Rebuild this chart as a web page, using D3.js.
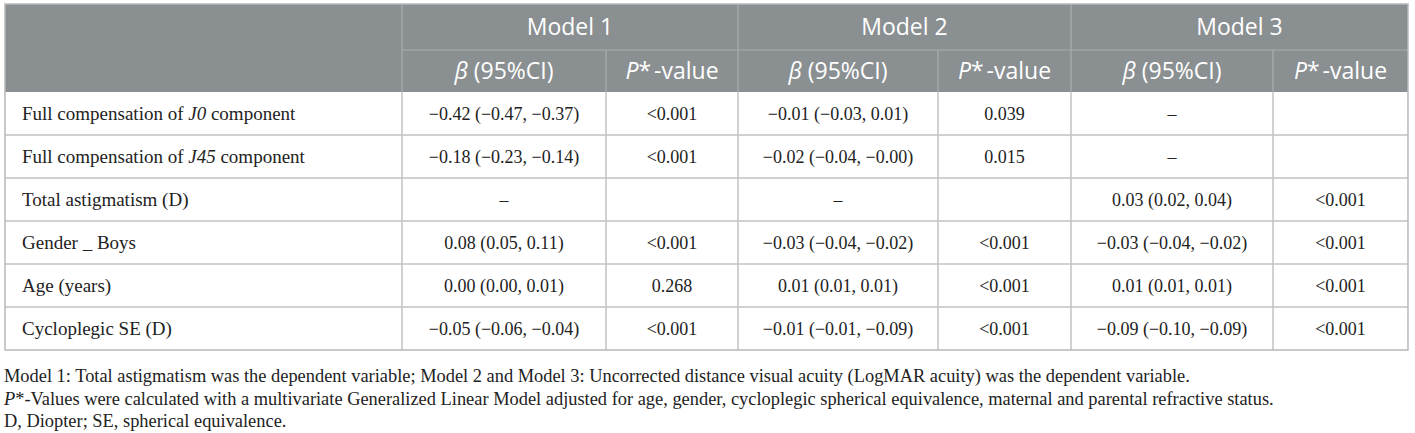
<!DOCTYPE html>
<html>
<head>
<meta charset="utf-8">
<script src="https://cdn.jsdelivr.net/npm/d3@7"></script>
<style>
  body { margin: 0; background: #fff; }
  svg { display: block; }
</style>
</head>
<body>
<div id="chart"></div>
<script>
// table content
const models = ["Model 1", "Model 2", "Model 3"];
const rowLabels = [
  ["Full compensation of ", ["J0", true], " component"],
  ["Full compensation of ", ["J45", true], " component"],
  ["Total astigmatism (D)"],
  ["Gender _ Boys"],
  ["Age (years)"],
  ["Cycloplegic SE (D)"]
];
const model1Beta = ["−0.42 (−0.47, −0.37)", "−0.18 (−0.23, −0.14)", "–", "0.08 (0.05, 0.11)", "0.00 (0.00, 0.01)", "−0.05 (−0.06, −0.04)"];
const model1P = ["<0.001", "<0.001", "", "<0.001", "0.268", "<0.001"];
const model2Beta = ["−0.01 (−0.03, 0.01)", "−0.02 (−0.04, −0.00)", "–", "−0.03 (−0.04, −0.02)", "0.01 (0.01, 0.01)", "−0.01 (−0.01, −0.09)"];
const model2P = ["0.039", "0.015", "", "<0.001", "<0.001", "<0.001"];
const model3Beta = ["–", "–", "0.03 (0.02, 0.04)", "−0.03 (−0.04, −0.02)", "0.01 (0.01, 0.01)", "−0.09 (−0.10, −0.09)"];
const model3P = ["", "", "<0.001", "<0.001", "<0.001", "<0.001"];
const footnotes = [
  [["Model 1: Total astigmatism was the dependent variable; Model 2 and Model 3: Uncorrected distance visual acuity (LogMAR acuity) was the dependent variable.", false]],
  [["P", true], ["*-Values were calculated with a multivariate Generalized Linear Model adjusted for age, gender, cycloplegic spherical equivalence, maternal and parental refractive status.", false]],
  [["D, Diopter; SE, spherical equivalence.", false]]
];

const W = 1415, H = 433;
const tLeft = 5, tRight = 1408, tTop = 4;
const head1 = 50, head2 = 92, rowH = 43;
// column edges: label | b1 p1 | b2 p2 | b3 p3
const colEdges = [tLeft, 402, 606, 738, 938, 1071, 1273, tRight];
const columns = [model1Beta, model1P, model2Beta, model2P, model3Beta, model3P];

const svg = d3.select("#chart").append("svg")
    .attr("width", W)
    .attr("height", H);

const y = d3.scaleBand()
    .domain(d3.range(rowLabels.length))
    .range([head2, head2 + rowH * rowLabels.length]);
const tBottom = y.range()[1];

const colMid = i => (colEdges[i] + colEdges[i + 1]) / 2;

// header background
svg.append("rect")
    .attr("x", tLeft).attr("y", tTop)
    .attr("width", tRight - tLeft).attr("height", head2 - tTop)
    .attr("fill", "#8a8f92");

// header separators
const hLine = "#a9adb0";
svg.append("line")
    .attr("x1", colEdges[1]).attr("x2", tRight)
    .attr("y1", head1).attr("y2", head1)
    .attr("stroke", hLine).attr("stroke-width", 1.2);
[1, 3, 5].forEach(i => {
  svg.append("line")
      .attr("x1", colEdges[i]).attr("x2", colEdges[i])
      .attr("y1", tTop).attr("y2", head2)
      .attr("stroke", hLine).attr("stroke-width", 1.2);
});
[2, 4, 6].forEach(i => {
  svg.append("line")
      .attr("x1", colEdges[i]).attr("x2", colEdges[i])
      .attr("y1", head1).attr("y2", head2)
      .attr("stroke", hLine).attr("stroke-width", 1.2);
});

// header text
const headFont = "'Open Sans', 'Noto Sans', sans-serif";
svg.selectAll(".model")
    .data(models)
    .enter()
    .append("text")
    .attr("class", "model")
    .attr("x", (d, i) => (colEdges[1 + i * 2] + colEdges[3 + i * 2]) / 2)
    .attr("y", 35)
    .attr("text-anchor", "middle")
    .attr("font-family", headFont)
    .attr("font-size", 23)
    .attr("fill", "#fff")
    .text(d => d);

models.forEach((m, i) => {
  const b = svg.append("text")
      .attr("x", colMid(1 + i * 2)).attr("y", 79)
      .attr("text-anchor", "middle")
      .attr("font-family", headFont).attr("font-size", 23)
      .attr("fill", "#fff");
  b.append("tspan").attr("font-style", "italic").text("β");
  b.append("tspan").text(" (95%CI)");
  const p = svg.append("text")
      .attr("x", colMid(2 + i * 2)).attr("y", 79)
      .attr("text-anchor", "middle")
      .attr("font-family", headFont).attr("font-size", 23)
      .attr("fill", "#fff");
  p.append("tspan").attr("font-style", "italic").text("P");
  p.append("tspan").text("*");
  p.append("tspan").attr("dx", 3).text("-value");
});

// body grid
const gLine = "#c2c2c2";
svg.selectAll(".hrow")
    .data(d3.range(1, rowLabels.length))
    .enter()
    .append("line")
    .attr("x1", tLeft).attr("x2", tRight)
    .attr("y1", d => y(d)).attr("y2", d => y(d))
    .attr("stroke", gLine).attr("stroke-width", 1.5);
svg.selectAll(".vcol")
    .data(colEdges.slice(1, -1))
    .enter()
    .append("line")
    .attr("x1", d => d).attr("x2", d => d)
    .attr("y1", head2).attr("y2", tBottom)
    .attr("stroke", gLine).attr("stroke-width", 1.5);

// outer border
svg.append("rect")
    .attr("x", tLeft).attr("y", tTop)
    .attr("width", tRight - tLeft).attr("height", tBottom - tTop)
    .attr("fill", "none")
    .attr("stroke", "#b8b8b8").attr("stroke-width", 1.5);

// body text
const bodyFont = "'Liberation Serif', 'DejaVu Serif', serif";
const labels = svg.selectAll(".label")
    .data(rowLabels)
    .enter()
    .append("text")
    .attr("class", "label")
    .attr("x", 22)
    .attr("y", (d, i) => y(i) + y.bandwidth() / 2 + 6)
    .attr("font-family", bodyFont)
    .attr("font-size", 19)
    .attr("fill", "#222");
labels.each(function(parts) {
  const t = d3.select(this);
  parts.forEach(p => {
    if (Array.isArray(p)) t.append("tspan").attr("font-style", "italic").text(p[0]);
    else t.append("tspan").text(p);
  });
});

columns.forEach((col, c) => {
  svg.selectAll(".cell" + c)
      .data(col)
      .enter()
      .append("text")
      .attr("x", colMid(c + 1))
      .attr("y", (d, i) => y(i) + y.bandwidth() / 2 + 6)
      .attr("text-anchor", "middle")
      .attr("font-family", bodyFont)
      .attr("font-size", 18)
      .attr("fill", "#222")
      .text(d => d);
});

// footnotes
svg.selectAll(".foot")
    .data(footnotes)
    .enter()
    .append("text")
    .attr("x", 4)
    .attr("y", (d, i) => 382 + i * 22.5)
    .attr("font-family", bodyFont)
    .attr("font-size", 18.4)
    .attr("fill", "#222")
    .each(function(parts) {
      const t = d3.select(this);
      parts.forEach(p => t.append("tspan").attr("font-style", p[1] ? "italic" : null).text(p[0]));
    });
</script>
</body>
</html>
